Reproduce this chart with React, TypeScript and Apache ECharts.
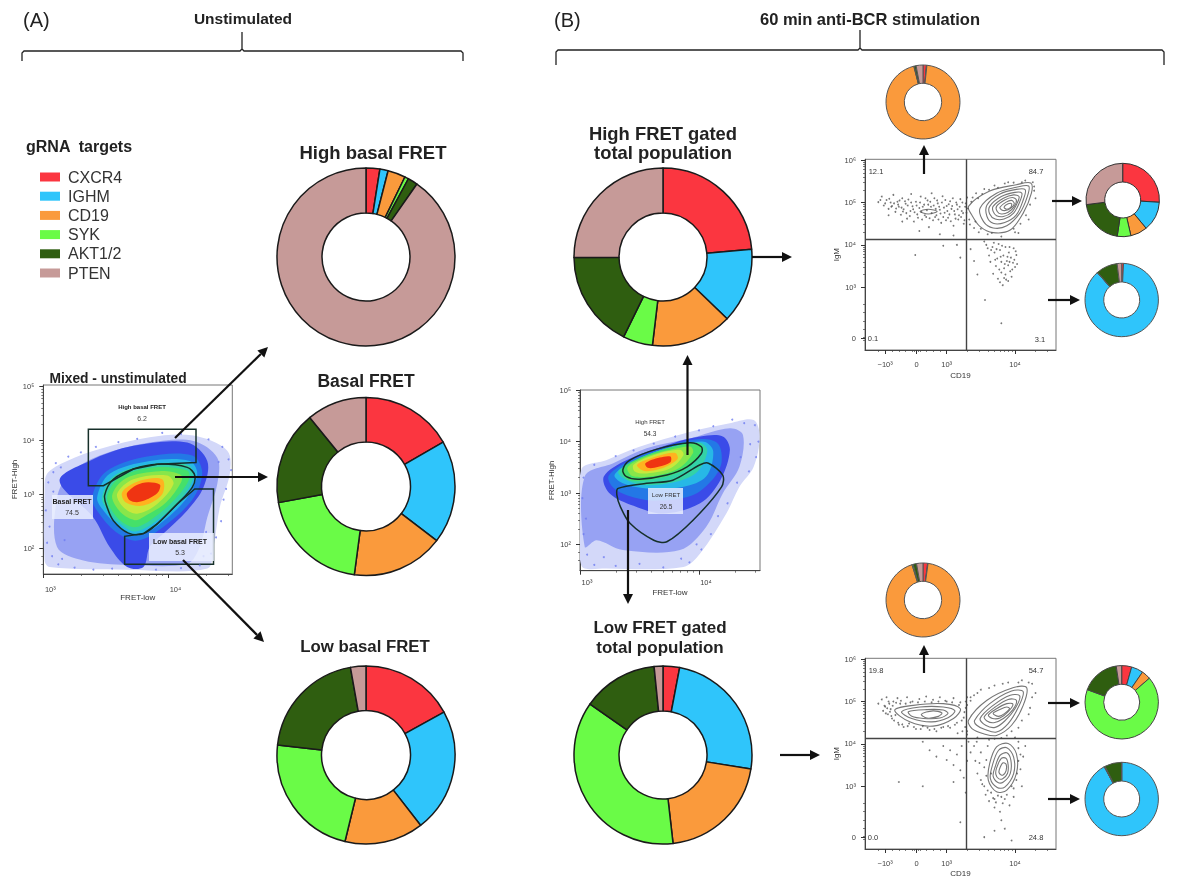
import React, { useEffect, useRef } from "react";
import * as echarts from "echarts";

type Pt = [number, number];

const gRNA = ["CXCR4", "IGHM", "CD19", "SYK", "AKT1/2", "PTEN"];
const palette = ["#fb3640", "#2fc5fb", "#fa9a3c", "#6afb47", "#2f5e10", "#c69a98"];

const highBasal = [2.5, 1.5, 3.2, 0.7, 1.8, 90.3];
const basal = [16.7, 18.7, 16.7, 20, 17, 10.9];
const lowBasal = [17, 22.5, 14.3, 23, 20.4, 2.8];
const highGated = [23.6, 13.6, 14.7, 5.4, 17.6, 25.1];
const lowGated = [3, 24.5, 20.7, 36.5, 13.7, 1.6];
const highMiniTop = [1.5, 0.2, 94.3, 0.2, 0.8, 3];
const highMiniUpper = [26, 13, 7.4, 6, 20.6, 27];
const highMiniLower = [0.8, 87.6, 0.1, 0.1, 9.4, 2];
const lowMiniTop = [2, 0.2, 93, 0.5, 1.5, 2.8];
const lowMiniUpper = [4.4, 5.2, 4, 67, 17, 2.4];
const lowMiniLower = [0.1, 92, 0.1, 0.3, 7.4, 0.1];

// Density plot A, contour bands in log10 units, outermost first
const aBands: Pt[][] = [
  [[3.01,1.77],[3.01,3.01],[3.03,3.38],[3.19,3.62],[3.45,3.84],[3.85,4.06],[4.20,4.09],[4.47,3.81],[4.49,3.38],[4.41,2.76],[4.36,2.02],[4.31,1.62],[3.67,1.60],[3.05,1.65]],
  [[3.11,2.02],[3.11,2.94],[3.21,3.38],[3.45,3.72],[3.85,3.96],[4.20,3.99],[4.39,3.68],[4.39,3.19],[4.31,2.57],[4.25,2.02],[4.15,1.71],[3.67,1.69],[3.32,1.77]],
  [[3.13,3.25],[3.37,3.62],[3.72,3.90],[4.15,3.96],[4.31,3.62],[4.28,3.13],[4.15,2.70],[3.96,2.27],[3.85,2.02],[3.80,1.65],[3.67,1.65],[3.53,2.02],[3.40,2.57]],
  [[3.39,2.94],[3.50,3.42],[3.83,3.70],[4.19,3.72],[4.27,3.40],[4.19,2.90],[3.95,2.38],[3.75,2.14],[3.58,2.30],[3.44,2.66]],
  [[3.43,2.94],[3.53,3.38],[3.85,3.62],[4.17,3.62],[4.23,3.38],[4.15,2.94],[3.93,2.45],[3.75,2.23],[3.61,2.39],[3.48,2.70]],
  [[3.47,2.94],[3.57,3.35],[3.86,3.56],[4.16,3.54],[4.20,3.31],[4.10,2.91],[3.89,2.48],[3.73,2.31],[3.60,2.48],[3.53,2.65]],
  [[3.51,2.94],[3.61,3.31],[3.88,3.50],[4.15,3.44],[4.16,3.25],[4.04,2.88],[3.85,2.51],[3.72,2.39],[3.59,2.57]],
  [[3.55,2.98],[3.66,3.30],[3.93,3.43],[4.10,3.36],[4.10,3.22],[3.98,2.85],[3.80,2.58],[3.73,2.52],[3.62,2.66]],
  [[3.59,3.01],[3.72,3.28],[3.99,3.35],[4.04,3.19],[3.91,2.82],[3.75,2.64],[3.64,2.76]],
  [[3.63,3.04],[3.77,3.25],[3.95,3.28],[3.95,3.00],[3.80,2.79],[3.66,2.85]],
  [[3.67,3.03],[3.79,3.21],[3.93,3.18],[3.91,3.02],[3.77,2.86],[3.69,2.89]],
];
const aBasalGate: Pt[] = [[3.49,2.98],[3.56,3.28],[3.72,3.47],[3.91,3.56],[4.15,3.50],[4.21,3.35],[4.19,3.13],[4.07,2.82],[3.91,2.45],[3.80,2.27],[3.68,2.28],[3.56,2.51],[3.51,2.76]];
const aHighGate: Pt[] = [[3.36,3.16],[3.36,4.21],[4.22,4.21],[4.22,3.59],[3.91,3.56],[3.72,3.47],[3.48,3.16]];
const aLowGate: Pt[] = [[3.65,2.22],[3.65,1.70],[4.36,1.70],[4.36,3.10],[4.21,3.10],[4.07,2.82],[3.91,2.45],[3.80,2.27]];
const aSpecks: Pt[] = [[3.04,3.22],[3.08,3.41],[3.14,3.5],[3.02,2.7],[3.05,2.4],[3.03,2.1],[3.07,1.85],[3.12,1.7],[3.25,1.64],[3.4,1.6],[3.55,1.62],[3.9,1.6],[4.1,1.63],[4.25,1.68],[4.34,1.9],[4.38,2.2],[4.42,2.5],[4.44,2.9],[4.46,3.1],[4.5,3.45],[4.48,3.65],[4.43,3.88],[4.32,4.02],[4.1,4.12],[3.95,4.14],[3.75,4.03],[3.6,3.97],[3.42,3.88],[3.3,3.78],[3.2,3.7],[3.1,3.58],[3.17,2.15],[3.22,2.6],[4.3,2.3],[4.28,1.85],[4.4,3.6],[3.08,3.05],[3.15,1.8]];

// Density plot B
const bBands: Pt[][] = [
  [[3.01,1.60],[3.01,3.45],[3.22,3.64],[3.50,3.90],[3.92,4.19],[4.26,4.36],[4.46,4.42],[4.51,4.10],[4.46,3.51],[4.34,3.12],[4.23,2.60],[4.01,1.82],[3.87,1.56],[3.22,1.53]],
  [[3.04,1.95],[3.04,3.32],[3.28,3.58],[3.56,3.87],[3.92,4.06],[4.26,4.26],[4.37,4.13],[4.34,3.51],[4.20,2.99],[4.06,2.34],[3.84,1.89],[3.36,1.89],[3.14,2.08]],
  [[3.20,3.32],[3.39,3.64],[3.78,3.97],[4.01,4.10],[4.20,4.10],[4.26,3.84],[4.18,3.25],[4.01,2.80],[3.70,2.60],[3.45,2.75],[3.25,2.99]],
  [[3.24,3.33],[3.40,3.61],[3.75,3.92],[4.02,4.05],[4.16,3.96],[4.19,3.60],[4.12,3.28],[3.94,2.95],[3.62,2.85],[3.40,2.95],[3.28,3.10]],
  [[3.29,3.35],[3.42,3.58],[3.73,3.87],[4.04,4.00],[4.12,3.81],[4.06,3.32],[3.87,3.12],[3.56,3.09],[3.36,3.19]],
  [[3.32,3.40],[3.46,3.63],[3.75,3.88],[4.01,3.98],[4.07,3.82],[3.98,3.40],[3.77,3.20],[3.49,3.17]],
  [[3.35,3.45],[3.50,3.68],[3.78,3.90],[3.99,3.97],[4.02,3.84],[3.90,3.48],[3.67,3.29],[3.42,3.25]],
  [[3.40,3.50],[3.56,3.71],[3.81,3.87],[3.93,3.90],[3.95,3.78],[3.83,3.48],[3.62,3.33],[3.44,3.33]],
  [[3.45,3.55],[3.62,3.74],[3.84,3.84],[3.87,3.74],[3.76,3.48],[3.56,3.38],[3.46,3.42]],
  [[3.48,3.55],[3.64,3.71],[3.80,3.78],[3.82,3.66],[3.69,3.48],[3.54,3.43]],
  [[3.55,3.58],[3.67,3.69],[3.76,3.71],[3.76,3.60],[3.66,3.51],[3.57,3.49]],
];
const bHighGate: Pt[] = [[3.36,3.45],[3.42,3.64],[3.64,3.85],[3.92,3.98],[4.02,3.90],[4.02,3.77],[3.90,3.51],[3.73,3.35],[3.50,3.27],[3.39,3.32]];
const bLowGate: Pt[] = [[3.32,3.09],[3.56,3.19],[3.78,3.25],[4.01,3.55],[4.08,3.58],[4.20,3.35],[4.19,3.12],[3.95,2.47],[3.73,2.05],[3.62,2.08],[3.42,2.41],[3.34,2.73],[3.31,2.96]];
const bSpecks: Pt[] = [[3.03,3.3],[3.02,2.9],[3.05,2.5],[3.03,2.2],[3.06,1.8],[3.12,1.6],[3.3,1.58],[3.5,1.62],[3.7,1.55],[3.85,1.72],[3.98,2.0],[4.1,2.2],[4.16,2.55],[4.24,2.8],[4.32,3.2],[4.42,3.42],[4.48,3.7],[4.5,4.0],[4.47,4.32],[4.38,4.36],[4.28,4.43],[4.12,4.3],[4.0,4.22],[3.8,4.1],[3.62,3.96],[3.45,3.83],[3.3,3.72],[3.12,3.55],[4.43,3.95],[4.35,3.7],[3.2,1.75],[3.92,1.65],[4.02,1.9]];

// Contour plots: x in biexponential display units, y in log10 units
const upperContours: Pt[][] = [
  [[3.32,4.91],[3.63,5.27],[4.02,5.42],[4.23,5.46],[4.24,5.22],[4.12,4.75],[3.93,4.35],[3.68,4.29],[3.49,4.43],[3.37,4.70]],
  [[3.49,4.87],[3.73,5.22],[4.02,5.36],[4.20,5.39],[4.18,5.14],[4.07,4.75],[3.88,4.45],[3.68,4.40],[3.54,4.55]],
  [[3.59,4.94],[3.78,5.20],[4.02,5.31],[4.15,5.30],[4.12,5.06],[4.02,4.71],[3.85,4.53],[3.68,4.51],[3.59,4.67]],
  [[3.63,4.91],[3.80,5.14],[4.00,5.24],[4.10,5.22],[4.07,5.02],[3.98,4.75],[3.84,4.61],[3.71,4.61],[3.63,4.73]],
  [[3.68,4.91],[3.83,5.10],[3.98,5.18],[4.06,5.14],[4.03,4.98],[3.95,4.77],[3.83,4.67],[3.73,4.69],[3.68,4.79]],
  [[3.73,4.91],[3.85,5.06],[3.96,5.12],[4.02,5.06],[3.99,4.91],[3.90,4.77],[3.80,4.73],[3.74,4.79]],
  [[3.78,4.89],[3.87,5.01],[3.95,5.05],[3.99,4.97],[3.94,4.87],[3.86,4.81],[3.80,4.83]],
  [[3.84,4.89],[3.90,4.97],[3.95,4.97],[3.94,4.89],[3.88,4.84]],
  [[2.61,4.79],[2.73,4.84],[2.86,4.79],[2.73,4.73]],
];
const lowerContours: Pt[][] = [
  [[2.24,4.80],[2.51,4.91],[2.95,4.95],[3.20,4.83],[3.10,4.60],[2.80,4.42],[2.46,4.52]],
  [[2.34,4.76],[2.61,4.87],[2.95,4.87],[3.12,4.78],[3.02,4.62],[2.78,4.52],[2.49,4.60]],
  [[2.44,4.76],[2.71,4.81],[2.95,4.80],[3.02,4.72],[2.90,4.61],[2.66,4.60],[2.49,4.65]],
  [[2.63,4.70],[2.80,4.78],[2.93,4.73],[2.88,4.65],[2.71,4.61]],
  [[3.32,4.56],[3.59,5.03],[3.98,5.33],[4.17,5.33],[4.12,4.91],[3.95,4.44],[3.73,4.20],[3.54,4.24],[3.37,4.36]],
  [[3.41,4.56],[3.63,4.95],[3.95,5.25],[4.12,5.23],[4.05,4.87],[3.90,4.48],[3.73,4.28],[3.56,4.34],[3.44,4.44]],
  [[3.49,4.60],[3.68,4.91],[3.93,5.15],[4.07,5.13],[4.00,4.83],[3.85,4.54],[3.71,4.39],[3.57,4.44]],
  [[3.55,4.64],[3.71,4.87],[3.90,5.05],[4.02,5.03],[3.97,4.81],[3.83,4.60],[3.69,4.50],[3.59,4.54]],
  [[3.61,4.68],[3.73,4.83],[3.88,4.95],[3.97,4.94],[3.90,4.76],[3.78,4.61],[3.67,4.60]],
  [[3.68,4.72],[3.78,4.81],[3.88,4.87],[3.92,4.83],[3.85,4.72],[3.76,4.65]],
  [[3.63,3.54],[3.73,3.93],[3.90,4.01],[4.02,3.77],[4.02,3.30],[3.88,2.91],[3.73,2.87],[3.61,3.14]],
  [[3.67,3.50],[3.76,3.85],[3.88,3.91],[3.98,3.69],[3.98,3.30],[3.85,2.98],[3.74,2.97],[3.64,3.18]],
  [[3.71,3.46],[3.78,3.73],[3.88,3.79],[3.94,3.61],[3.93,3.30],[3.83,3.10],[3.75,3.09],[3.68,3.24]],
  [[3.73,3.43],[3.80,3.66],[3.87,3.66],[3.90,3.50],[3.89,3.30],[3.82,3.18],[3.76,3.18],[3.72,3.28]],
  [[3.77,3.39],[3.82,3.55],[3.87,3.52],[3.87,3.37],[3.82,3.26],[3.77,3.31]],
];
const upperSpecks: Pt[] = [[2.0,5.01],[2.05,5.14],[2.08,4.93],[2.12,5.06],[2.15,4.85],[2.18,5.0],[2.2,4.92],[2.22,5.18],[2.25,4.78],[2.28,5.02],[2.3,4.9],[2.33,4.71],[2.35,5.1],[2.37,4.84],[2.4,4.97],[2.42,4.62],[2.44,5.07],[2.47,4.8],[2.5,4.91],[2.52,4.55],[2.55,5.02],[2.57,4.72],[2.6,4.87],[2.62,5.14],[2.64,4.6],[2.67,4.95],[2.7,4.66],[2.72,5.05],[2.74,4.42],[2.77,4.9],[2.8,4.58],[2.82,5.1],[2.85,4.7],[2.87,4.98],[2.9,4.83],[2.92,4.52],[2.94,5.15],[2.97,4.76],[3.0,4.92],[3.02,4.64],[3.05,5.03],[3.07,4.85],[3.1,4.45],[3.12,4.72],[3.15,4.95],[3.17,4.6],[3.2,5.08],[3.22,4.8],[3.25,4.5],[3.27,4.9],[3.3,5.12],[3.33,4.6],[3.36,5.02],[3.4,4.4],[3.43,5.22],[3.47,4.3],[3.55,5.32],[3.6,4.25],[3.7,5.4],[3.8,4.2],[3.9,5.48],[4.05,4.28],[4.15,5.52],[4.28,5.38],[4.3,5.1],[4.2,4.6],[2.35,4.55],[2.6,4.33],[2.9,4.25],[3.1,4.22],[2.15,4.7],[2.48,5.2],[2.78,5.22],
  [2.03,5.06],[2.1,4.98],[2.16,5.09],[2.19,4.9],[2.23,4.98],[2.26,4.86],[2.29,4.95],[2.31,5.05],[2.34,4.88],[2.36,4.79],[2.39,5.03],[2.41,4.75],[2.43,4.93],[2.46,4.68],[2.48,5.0],[2.51,4.84],[2.53,4.77],[2.56,4.93],[2.58,4.64],[2.61,5.0],[2.63,4.78],[2.65,4.9],[2.68,4.7],[2.69,5.1],[2.71,4.82],[2.73,4.95],[2.75,4.63],[2.76,5.02],[2.78,4.75],[2.81,4.93],[2.83,4.66],[2.84,4.85],[2.86,5.05],[2.88,4.6],[2.89,4.9],[2.91,4.74],[2.93,5.0],[2.95,4.66],[2.96,4.88],[2.98,5.06],[2.99,4.58],[3.01,4.8],[3.03,4.96],[3.04,4.72],[3.06,4.56],[3.08,4.92],[3.09,5.1],[3.11,4.8],[3.13,4.62],[3.14,5.0],[3.16,4.84],[3.18,4.7],[3.19,4.9],[3.21,4.66],[3.23,5.0],[3.24,4.75],[3.26,4.58],[3.28,4.98],[3.29,4.76],[3.31,4.86],[3.34,4.48],[3.38,5.12],[3.42,4.55],[3.46,5.1],[3.5,4.38],[3.52,5.2],[3.62,5.3],[3.66,4.28],[3.75,5.35],[3.85,5.45],[3.98,5.47],[4.0,4.3],[4.1,5.48],[4.26,5.48],[4.28,5.28],[4.22,4.95],[4.16,4.7],[4.08,4.5],[3.98,4.38]];
const upperSpecksLow: Pt[] = [[3.55,4.08],[3.6,3.92],[3.62,3.75],[3.64,3.6],[3.67,3.95],[3.7,3.82],[3.72,3.5],[3.74,3.68],[3.76,4.02],[3.78,3.88],[3.8,3.35],[3.8,3.6],[3.83,3.75],[3.84,3.45],[3.86,3.95],[3.87,3.18],[3.88,3.62],[3.9,3.52],[3.91,3.82],[3.93,3.38],[3.94,3.7],[3.95,3.25],[3.97,3.58],[3.98,3.92],[4.0,3.48],[4.02,3.76],[3.75,3.2],[3.82,3.05],[3.68,3.32],[3.4,3.62],[3.35,3.9],[3.45,3.3],[3.56,2.7],[3.8,2.15],[2.54,3.76],[2.95,3.98],[3.15,4.0],[3.2,3.7],
  [3.58,4.0],[3.65,3.88],[3.69,4.05],[3.71,3.65],[3.73,3.9],[3.77,3.42],[3.79,3.72],[3.81,3.98],[3.85,3.55],[3.86,3.3],[3.89,3.72],[3.92,3.6],[3.92,3.95],[3.96,3.42],[3.99,3.65],[4.01,3.85],[4.03,3.55],[3.9,3.15],[3.84,3.22],[3.78,3.12]];
const lowerSpecks: Pt[] = [[2.0,4.95],[2.05,5.05],[2.07,4.78],[2.1,4.88],[2.12,5.1],[2.14,4.7],[2.16,4.95],[2.18,4.82],[2.2,4.6],[2.22,5.0],[2.25,4.68],[2.28,5.08],[2.3,4.45],[2.33,5.02],[2.37,4.4],[2.42,5.1],[2.45,4.48],[2.5,5.0],[2.55,4.35],[2.6,5.06],[2.65,4.42],[2.7,5.12],[2.75,4.33],[2.8,5.04],[2.85,4.3],[2.9,5.1],[2.95,4.4],[3.0,5.0],[3.05,4.38],[3.1,5.08],[3.15,4.5],[3.2,4.98],[3.25,4.62],[3.28,4.85],[3.3,5.1],[3.27,4.4],[3.3,4.22],[3.35,5.02],[3.4,5.15],[3.5,5.28],[3.7,5.38],[3.9,5.45],[4.1,5.5],[4.25,5.42],[4.3,5.2],[4.22,4.85],[4.1,4.55],[3.95,4.3],[3.8,4.14],[3.45,4.15],[3.3,4.3],[2.65,4.05],[2.75,3.85],[2.85,3.7],[2.95,3.95],[3.0,3.62],[3.05,3.85],[3.1,3.5],[3.15,3.75],[3.2,3.38],[3.22,3.95],[3.25,3.2],[3.3,3.6],[3.28,2.85],[3.2,2.15],[3.1,3.1],[2.3,3.1],[2.65,3.0],[3.4,3.95],[3.42,3.6],[3.45,3.3],[3.5,3.8],[3.52,3.05],[3.55,3.45],[3.57,2.8],[3.6,3.95],[3.62,2.65],[3.65,3.3],[3.68,2.72],[3.7,2.5],[3.75,2.78],[3.78,2.4],[3.82,2.6],[3.88,2.8],[3.92,2.55],[3.98,2.95],[4.02,3.15],[4.08,3.4],[4.12,3.7],[4.15,3.95],[4.05,4.05],[3.8,2.2],[3.7,1.95],[3.55,1.8],[3.95,1.72],[3.85,2.0],[4.1,3.0],
  [2.09,4.9],[2.11,4.72],[2.13,4.84],[2.15,5.0],[2.17,4.76],[2.19,4.66],[2.21,4.9],[2.23,4.55],[2.26,4.97],[2.29,4.5],[2.32,4.95],[2.35,4.46],[2.4,4.95],[2.43,4.42],[2.47,4.98],[2.52,4.4],[2.58,4.98],[2.62,4.35],[2.68,5.0],[2.72,4.38],[2.78,4.98],[2.82,4.35],[2.88,5.0],[2.92,4.38],[2.98,5.02],[3.02,4.42],[3.08,4.98],[3.12,4.45],[3.18,4.92],[3.22,4.55],[3.26,4.75],[3.3,4.92],[3.23,4.3],[3.16,4.25],[3.32,4.05],[3.44,4.05],[3.35,3.8],[3.48,3.55],[3.5,3.15],[3.55,3.0],[3.58,3.62],[3.58,3.25],[3.6,2.9],[4.05,3.6],[4.05,3.9],[4.08,3.75],[4.03,3.3],[3.98,2.75],[3.95,3.0],[3.7,2.7],[3.72,2.62],[3.8,2.75],[3.85,2.7],[3.65,2.85],[3.62,4.1],[3.7,4.12],[3.88,4.2],[4.0,4.15],[3.28,5.0],[3.35,5.1],[3.45,5.2],[3.62,5.32],[3.82,5.42],[4.05,5.45],[4.2,5.45],[4.25,5.1],[4.2,4.7],[4.05,4.38]];

// Axis ticks
const logMajorX = [3, 4];
const logMinorX = [3.301, 3.477, 3.602, 3.699, 3.778, 3.845, 3.903, 3.954, 4.301, 4.477];
const logMajorY = [2, 3, 4, 5];
const logMinorY = [1.699, 1.845, 2.301, 2.477, 2.602, 2.699, 2.778, 2.845, 2.903, 2.954, 3.301, 3.477, 3.602, 3.699, 3.778, 3.845, 3.903, 3.954, 4.301, 4.477, 4.602, 4.699, 4.778, 4.845, 4.903, 4.954];
const biexMajorX = [2.1, 2.56, 3, 4];
const biexMinorX = [2.0, 2.2, 2.3, 2.4, 2.5, 2.53, 2.59, 2.62, 2.7, 2.8, 2.9, 3.301, 3.477, 3.602, 3.699, 3.778, 3.845, 3.903, 3.954, 4.301, 4.477];
const biexMajorY = [1.79, 3, 4, 5, 6];
const biexMinorY = [1.75, 1.83, 2.0, 2.2, 2.4, 2.6, 3.301, 3.477, 3.602, 3.699, 3.778, 3.845, 3.903, 3.954, 4.301, 4.477, 4.602, 4.699, 4.778, 4.845, 4.903, 4.954, 5.301, 5.477, 5.602, 5.699, 5.778, 5.845, 5.903, 5.954];
const quadrantX = 3.278;
const quadrantYUpper = 4.134;
const quadrantYLower = 4.126;

const bandColors = ["#d3d8f9", "#97a2f3", "#3a4be8", "#2378e6", "#27b8e6", "#33d2a6", "#45e06a", "#88e64a", "#c8e83c", "#ffb21f", "#ef3412"];
const FONT = '"Liberation Sans", Arial, sans-serif';

const expLabels: Record<string, string> = { "2": "10²", "3": "10³", "4": "10⁴", "5": "10⁵", "6": "10⁶" };

function axisPair(kind: "x" | "y", grid: number, min: number, max: number, major: number[], minor: number[], name: string, nameGap: number, fmt: (v: number) => string, labelPad = 0, margin = 5) {
  const position = kind === "x" ? "bottom" : "left";
  const line = { show: true, lineStyle: { color: "#444", width: 1 } };
  return [
    {
      type: "value", gridIndex: grid, min, max, position, name, nameLocation: "middle", nameGap,
      nameTextStyle: { fontFamily: FONT, fontSize: 8, color: "#333" },
      splitLine: { show: false }, axisLine: line,
      axisTick: { show: true, length: 4, customValues: major, lineStyle: { color: "#333" } },
      axisLabel: { show: true, customValues: major, formatter: fmt, fontFamily: FONT, fontSize: 7.5, color: "#444", margin, padding: [0, 0, 0, labelPad], showMinLabel: true, showMaxLabel: true },
    },
    {
      type: "value", gridIndex: grid, min, max, position,
      splitLine: { show: false }, axisLine: { show: false },
      axisTick: { show: true, length: 2, customValues: minor, lineStyle: { color: "#444", width: 0.7 } },
      axisLabel: { show: false },
    },
  ];
}

type Shape = { pts: Pt[]; fill: string; stroke: string; width: number; smooth: number };

function shapesSeries(grid: number, shapes: Shape[]) {
  return {
    type: "custom", xAxisIndex: grid * 2, yAxisIndex: grid * 2, clip: true, silent: true, z: 3,
    data: shapes.map((_, i) => [i]),
    renderItem: (p: any, api: any) => {
      const s = shapes[p.dataIndex];
      return {
        type: "polygon",
        shape: { points: s.pts.map((q) => api.coord(q)), smooth: s.smooth },
        style: { fill: s.fill, stroke: s.stroke, lineWidth: s.width },
      };
    },
  };
}

function specksSeries(grid: number, data: Pt[], color: string, size: number, z = 4) {
  return { type: "scatter", xAxisIndex: grid * 2, yAxisIndex: grid * 2, data, symbolSize: size, itemStyle: { color, opacity: 0.8 }, silent: true, z };
}

function donut(name: string, values: number[], cx: number, cy: number, inner: number, outer: number, border: string, bw: number) {
  return {
    type: "pie", name, center: [cx, cy], radius: [inner, outer], startAngle: 90, silent: true,
    label: { show: false }, labelLine: { show: false },
    itemStyle: { borderColor: border, borderWidth: bw },
    data: gRNA.map((n, i) => ({ name: n, value: values[i] })),
  };
}

function txt(text: string, x: number, y: number, size: number, weight: string | number = "normal", color = "#222", align = "center", rotation = 0) {
  return {
    type: "text", x, y, rotation, z: 60,
    style: { text, fontFamily: FONT, fontSize: size, fontWeight: weight, fill: color, align, verticalAlign: "middle" },
  };
}

function arrow(x1: number, y1: number, x2: number, y2: number, w = 2.2, head = 10) {
  const a = Math.atan2(y2 - y1, x2 - x1);
  const bx = x2 - Math.cos(a) * head, by = y2 - Math.sin(a) * head;
  const nx = -Math.sin(a) * head * 0.5, ny = Math.cos(a) * head * 0.5;
  return [
    { type: "line", z: 70, shape: { x1, y1, x2: bx, y2: by }, style: { stroke: "#111", lineWidth: w } },
    { type: "polygon", z: 70, shape: { points: [[x2, y2], [bx + nx, by + ny], [bx - nx, by - ny]] }, style: { fill: "#111" } },
  ];
}

function brace(x1: number, x2: number, xm: number, y: number, top: number, bottom: number) {
  return {
    type: "polyline", z: 60,
    shape: { points: [[x1, bottom], [x1, y + 2], [x1 + 2, y], [xm - 2, y], [xm, y - 2], [xm, top], [xm, y - 2], [xm + 2, y], [x2 - 2, y], [x2, y + 2], [x2, bottom]] },
    style: { stroke: "#222", fill: "none", lineWidth: 1.3 },
  };
}

function labelBox(x: number, y: number, width: number, height: number) {
  return { type: "rect", z: 50, shape: { x, y, width, height }, style: { fill: "rgba(236,240,255,0.82)" } };
}

const logFmt = (v: number) => expLabels[String(v)] ?? "";
const biexX = (v: number) => (v === 2.1 ? "−10³" : v === 2.56 ? "0" : v === 3 ? "10³" : v === 4 ? "10⁴" : "");
const biexY = (v: number) => (v === 1.79 ? "0" : expLabels[String(v)] ?? "");

export default function App() {
  const ref = useRef<HTMLDivElement>(null);
  useEffect(() => {
    const chart = echarts.init(ref.current!, undefined, { renderer: "svg", width: 1196, height: 894 });
    const gridStyle = { show: true, borderColor: "#777", borderWidth: 1, backgroundColor: "#fff" };
    const grids = [
      { left: 43.3, top: 385, width: 189, height: 189, ...gridStyle },
      { left: 580, top: 390, width: 180, height: 180.7, ...gridStyle },
      { left: 865, top: 159.3, width: 191, height: 190.7, ...gridStyle },
      { left: 865, top: 658.3, width: 191, height: 190.7, ...gridStyle },
    ];
    const xAxes = [
      ...axisPair("x", 0, 3, 4.51, logMajorX, logMinorX, "FRET-low", 19, logFmt, 14, 11),
      ...axisPair("x", 1, 3, 4.513, logMajorX, logMinorX, "FRET-low", 18, logFmt, 14, 8),
      ...axisPair("x", 2, 1.805, 4.6, biexMajorX, biexMinorX, "CD19", 21, biexX, 0, 10),
      ...axisPair("x", 3, 1.805, 4.6, biexMajorX, biexMinorX, "CD19", 20, biexX, 0, 10),
    ];
    const yAxes = [
      ...axisPair("y", 0, 1.52, 5.03, logMajorY, logMinorY, "FRET-High", 20, logFmt, 0, 9),
      ...axisPair("y", 1, 1.487, 5.006, logMajorY, logMinorY, "FRET-High", 20, logFmt, 0, 9),
      ...axisPair("y", 2, 1.52, 6.02, biexMajorY, biexMinorY, "IgM", 22, biexY, 0, 9),
      ...axisPair("y", 3, 1.52, 6.02, biexMajorY, biexMinorY, "IgM", 22, biexY, 0, 9),
    ];

    const band = (pts: Pt[], i: number): Shape => ({ pts, fill: bandColors[i], stroke: "none", width: 0, smooth: 0.33 });
    const gate = (pts: Pt[], smooth: number): Shape => ({ pts, fill: "none", stroke: "#16302a", width: 1.5, smooth });
    const contour = (pts: Pt[]): Shape => ({ pts, fill: "#fff", stroke: "#777", width: 1.1, smooth: 0.33 });

    const quadrant = (grid: number, y: number) => ({
      type: "line", xAxisIndex: grid * 2, yAxisIndex: grid * 2, data: [], silent: true, z: 6,
      markLine: {
        silent: true, symbol: "none", label: { show: false },
        lineStyle: { color: "#444", width: 1.4, type: "solid" },
        data: [{ xAxis: quadrantX }, { yAxis: y }],
      },
    });

    const option: any = {
      animation: false,
      backgroundColor: "#fff",
      color: palette,
      legend: {
        show: true, orient: "vertical", left: 35, top: 164, itemWidth: 20, itemHeight: 9, itemGap: 3.2,
        icon: "rect", selectedMode: false, data: gRNA,
        itemStyle: { borderWidth: 0 },
        textStyle: { fontFamily: FONT, fontSize: 16, color: "#333", padding: [0, 0, 0, 3] },
      },
      grid: grids, xAxis: xAxes, yAxis: yAxes,
      series: [
        donut("High basal FRET", highBasal, 366, 257, 44, 89, "#1a1a1a", 1.5),
        donut("Basal FRET", basal, 366, 486.5, 44.5, 89, "#1a1a1a", 1.5),
        donut("Low basal FRET", lowBasal, 366, 755, 44.5, 89, "#1a1a1a", 1.5),
        donut("High FRET gated", highGated, 663, 257, 44, 89, "#1a1a1a", 1.5),
        donut("Low FRET gated", lowGated, 663, 755, 44, 89, "#1a1a1a", 1.5),
        donut("High top", highMiniTop, 923, 102, 18.7, 37, "#555", 1),
        donut("High upper", highMiniUpper, 1122.7, 200, 18, 36.7, "#333", 1),
        donut("High lower", highMiniLower, 1121.7, 300, 18, 36.7, "#555", 1),
        donut("Low top", lowMiniTop, 923, 600, 18.7, 37, "#555", 1),
        donut("Low upper", lowMiniUpper, 1121.7, 702.3, 18, 36.7, "#444", 1),
        donut("Low lower", lowMiniLower, 1121.7, 799, 18, 36.7, "#555", 1),
        shapesSeries(0, aBands.map(band)),
        specksSeries(0, aSpecks, "#6f7df0", 2),
        shapesSeries(0, [gate(aBasalGate, 0.33), gate(aHighGate, 0), gate(aLowGate, 0)]),
        shapesSeries(1, bBands.map(band)),
        specksSeries(1, bSpecks, "#6f7df0", 2),
        shapesSeries(1, [gate(bHighGate, 0.33), gate(bLowGate, 0.3)]),
        specksSeries(2, [...upperSpecks, ...upperSpecksLow], "#555", 1.8),
        shapesSeries(2, upperContours.map(contour)),
        quadrant(2, quadrantYUpper),
        specksSeries(3, lowerSpecks, "#555", 1.8),
        shapesSeries(3, lowerContours.map(contour)),
        quadrant(3, quadrantYLower),
      ],
      graphic: {
        elements: [
          txt("(A)", 23, 20, 20, "normal", "#222", "left"),
          txt("(B)", 554, 20, 20, "normal", "#222", "left"),
          txt("Unstimulated", 243, 18, 15.5, "bold"),
          txt("60 min anti-BCR stimulation", 870, 19, 16.5, "bold"),
          brace(22, 463, 242, 51, 32, 61),
          brace(556, 1164, 860, 50, 30, 65),
          txt("gRNA  targets", 26, 146, 16, "bold", "#222", "left"),
          txt("High basal FRET", 373, 152, 18.5, "bold"),
          txt("Basal FRET", 366, 381, 17.5, "bold"),
          txt("Low basal FRET", 365, 646, 16.8, "bold"),
          txt("High FRET gated", 663, 133, 18.4, "bold"),
          txt("total population", 663, 152, 18.4, "bold"),
          txt("Low FRET gated", 660, 627, 17, "bold"),
          txt("total population", 660, 647, 17, "bold"),
          txt("Mixed - unstimulated", 118, 378, 13.8, "bold"),
          txt("High basal FRET", 142, 407, 6, "bold"),
          txt("6.2", 142, 418, 7, "normal", "#444"),
          labelBox(52, 495, 41, 24),
          txt("Basal FRET", 72, 501, 7, "bold"),
          txt("74.5", 72, 512, 7, "normal", "#333"),
          labelBox(149, 533, 65, 28),
          txt("Low basal FRET", 180, 541, 7, "bold"),
          txt("5.3", 180, 552, 7, "normal", "#333"),
          txt("High FRET", 650, 422, 6, "normal", "#333"),
          txt("54.3", 650, 433, 6.5, "normal", "#333"),
          labelBox(648, 488, 35, 26),
          txt("Low FRET", 666, 495, 6, "normal", "#333"),
          txt("26.5", 666, 506, 6.5, "normal", "#333"),
          txt("12.1", 876, 171, 7.5, "normal", "#333"),
          txt("84.7", 1036, 171, 7.5, "normal", "#333"),
          txt("0.1", 873, 338, 7.5, "normal", "#333"),
          txt("3.1", 1040, 339, 7.5, "normal", "#333"),
          txt("19.8", 876, 670, 7.5, "normal", "#333"),
          txt("54.7", 1036, 670, 7.5, "normal", "#333"),
          txt("0.0", 873, 837, 7.5, "normal", "#333"),
          txt("24.8", 1036, 837, 7.5, "normal", "#333"),
          ...arrow(175, 438, 268, 347),
          ...arrow(175, 477, 268, 477),
          ...arrow(183, 560, 264, 642),
          ...arrow(687.5, 455, 687.5, 355),
          ...arrow(628, 510, 628, 604),
          ...arrow(752, 257, 792, 257),
          ...arrow(924, 174, 924, 145),
          ...arrow(1052, 201, 1082, 201),
          ...arrow(1048, 300, 1080, 300),
          ...arrow(780, 755, 820, 755),
          ...arrow(924, 673, 924, 645),
          ...arrow(1048, 703, 1080, 703),
          ...arrow(1048, 799, 1080, 799),
        ],
      },
    };
    chart.setOption(option);
    return () => chart.dispose();
  }, []);
  return <div ref={ref} style={{ position: "absolute", left: 0, top: 0, width: 1196, height: 894, filter: "blur(0.4px)" }} />;
}
